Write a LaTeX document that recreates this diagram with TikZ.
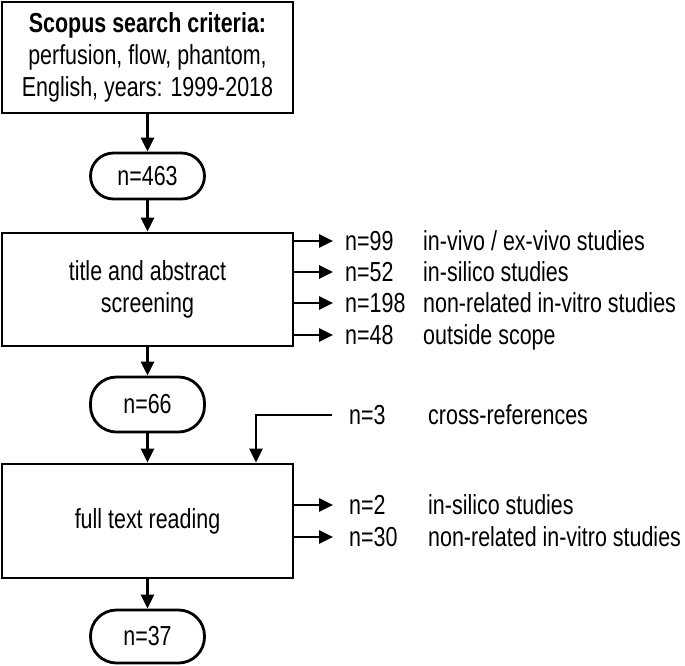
\documentclass[tikz,border=0pt]{standalone}
\usepackage{fontspec}
\setmainfont{Liberation Sans}[FakeStretch=0.78]
\usetikzlibrary{arrows.meta}
\begin{document}
\begin{tikzpicture}[x=1pt,y=-1pt,
  font=\fontsize{27.5}{32}\selectfont,
  box/.style={draw,line width=2.8pt,minimum width=291pt,align=center,inner sep=0pt},
  term/.style={draw,line width=2.8pt,rounded corners=23pt,minimum width=114pt,minimum height=46pt,inner sep=0pt},
  arr/.style={line width=2.6pt,-{Triangle[length=14pt,width=13pt]}},
  lab/.style={anchor=west,inner sep=0pt,text height=19.5pt,text depth=0pt}]
\path[use as bounding box] (0,0) rectangle (685,665);

\node[box,minimum height=111pt] (src) at (147.5,57.5) {\textbf{Scopus search criteria:}\\perfusion, flow, phantom,\\English, years: 1999-2018};
\node[term] (n463) at (147.5,176) {n=463};
\node[box,minimum height=113pt] (tas) at (147.5,289.5) {title and abstract\\screening};
\node[term,minimum height=55pt,rounded corners=26pt] (n66) at (147.5,404.5) {n=66};
\node[box,minimum height=114pt] (ftr) at (147.5,521) {full text reading};
\node[term,minimum height=53pt,rounded corners=26pt] (n37) at (147.5,636.5) {n=37};

\draw[arr] (src) -- (n463);
\draw[arr] (n463) -- (tas);
\draw[arr] (tas) -- (n66);
\draw[arr] (n66) -- (ftr);
\draw[arr] (ftr) -- (n37);

% exclusions after title/abstract screening
\node[lab] (l99) at (345,241) {n=99};
\node[lab] (d99) at (423,241) {in-vivo / ex-vivo studies};
\node[lab] (l52) at (345,272) {n=52};
\node[lab] (d52) at (423,272) {in-silico studies};
\node[lab] (l198) at (345,303) {n=198};
\node[lab] (d198) at (423,303) {non-related in-vitro studies};
\node[lab] (l48) at (345,335) {n=48};
\node[lab] (d48) at (423,335) {outside scope};
\foreach \n in {l99,l52,l198,l48}
  \draw[arr] (\n.west -| tas.east) -- ([xshift=-12pt]\n.west);

% cross-references
\node[lab] (l3) at (349,415) {n=3};
\node[lab] (d3) at (428,415) {cross-references};
\coordinate (cx) at (256,0);
\draw[arr] ([xshift=-17pt]l3.west) -| (ftr.north -| cx);

% exclusions after full text reading
\node[lab] (l2) at (349,505) {n=2};
\node[lab] (d2) at (428,505) {in-silico studies};
\node[lab] (l30) at (349,537) {n=30};
\node[lab] (d30) at (428,537) {non-related in-vitro studies};
\foreach \n in {l2,l30}
  \draw[arr] (\n.west -| ftr.east) -- ([xshift=-16pt]\n.west);
\end{tikzpicture}
\end{document}
